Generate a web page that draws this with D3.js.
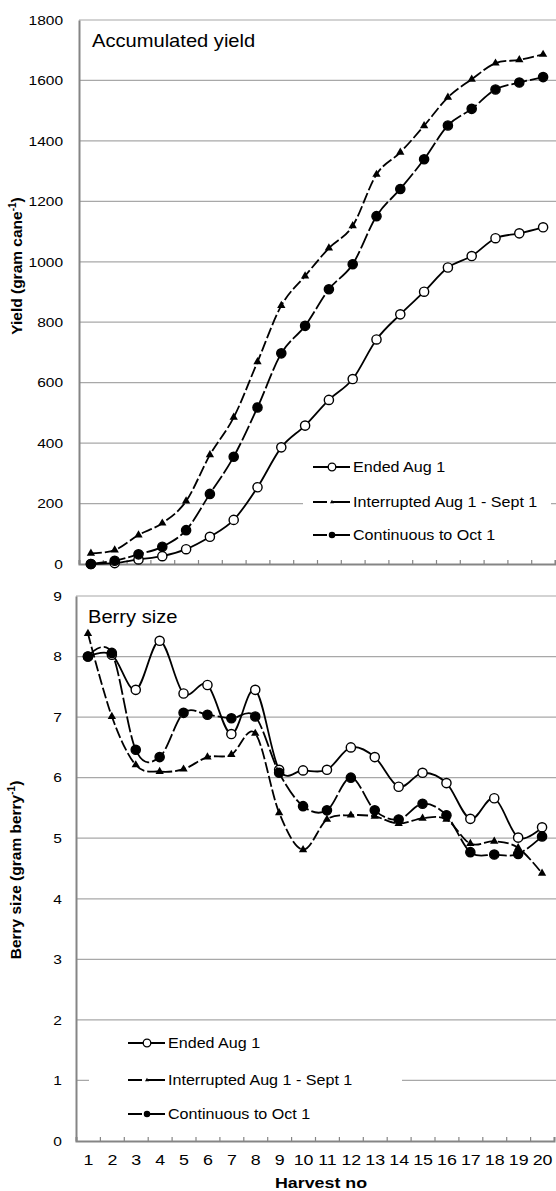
<!DOCTYPE html>
<html lang="en">
<head>
<meta charset="UTF-8">
<title>Accumulated yield and berry size</title>
<script src="https://d3js.org/d3.v7.min.js"></script>
<style>
  body { margin: 0; background: #fff; }
  svg text { font-family: Arial, "Liberation Sans", sans-serif; fill: #000; }
</style>
</head>
<body>
<div id="chart"></div>
<script>
// data
const harvestNo = [1, 2, 3, 4, 5, 6, 7, 8, 9, 10, 11, 12, 13, 14, 15, 16, 17, 18, 19, 20];
const seriesNames = ["Ended Aug 1", "Interrupted Aug 1 - Sept 1", "Continuous to Oct 1"];

const yieldEnded       = [0, 3, 15, 26, 49, 90, 146, 254, 386, 458, 543, 612, 743, 826, 901, 981, 1019, 1078, 1094, 1114];
const yieldInterrupted = [35, 46, 96, 135, 208, 361, 485, 669, 855, 953, 1045, 1119, 1289, 1362, 1450, 1544, 1604, 1657, 1668, 1686];
const yieldContinuous  = [0, 11, 32, 57, 112, 232, 355, 518, 697, 788, 909, 992, 1151, 1241, 1339, 1451, 1506, 1570, 1593, 1611];

const berryEnded       = [8.0, 8.03, 7.45, 8.26, 7.39, 7.53, 6.72, 7.45, 6.13, 6.12, 6.13, 6.5, 6.34, 5.85, 6.08, 5.91, 5.32, 5.66, 5.01, 5.18];
const berryInterrupted = [8.38, 7.01, 6.21, 6.1, 6.14, 6.34, 6.38, 6.73, 5.42, 4.81, 5.31, 5.38, 5.36, 5.24, 5.33, 5.31, 4.91, 4.95, 4.84, 4.42];
const berryContinuous  = [8.0, 8.06, 6.46, 6.34, 7.07, 7.04, 6.98, 7.01, 6.08, 5.53, 5.46, 6.0, 5.46, 5.31, 5.57, 5.38, 4.77, 4.73, 4.74, 5.03];

const yieldTicks = [0, 200, 400, 600, 800, 1000, 1200, 1400, 1600, 1800];
const berryTicks = [0, 1, 2, 3, 4, 5, 6, 7, 8, 9];

const W = 556, H = 1191;
const SX = 1.15;          // the source figure is a little wider than tall
const GRID = "#a8a8a8", AXIS = "#858585";

const styles = [
  {marker: "open",     dash: null},
  {marker: "triangle", dash: "11,3"},
  {marker: "filled",   dash: "16,3"}
];

const svg = d3.select("#chart").append("svg")
  .attr("width", W).attr("height", H);

function drawMarker(g, type, x, y, small) {
  if (type === "triangle") {
    g.append("path")
      .attr("d", d3.symbol(d3.symbolTriangle, small ? 7 : 30)())
      .attr("transform", `translate(${x},${y})`)
      .attr("fill", "#000");
  } else {
    g.append("circle")
      .attr("cx", x).attr("cy", y)
      .attr("r", small ? (type === "open" ? 3.8 : 2.6) : 4.6)
      .attr("fill", type === "open" ? "#fff" : "#000")
      .attr("stroke", "#000")
      .attr("stroke-width", small ? 1.3 : 1.4);
  }
}

function stretchedText(g, x, y, txt, size, weight) {
  return g.append("text")
    .attr("transform", `translate(${x},${y}) scale(${SX},1)`)
    .style("font-size", size + "px")
    .style("font-weight", weight || "normal")
    .text(txt);
}

function drawPanel(p) {
  const g = svg.append("g");

  const x = d3.scaleLinear().domain([0.5, 20.5]).range([p.left, p.right]);
  const y = d3.scaleLinear().domain([0, p.ticks[p.ticks.length - 1]]).range([p.bottom, p.top]);

  // gridlines
  g.append("g").selectAll("line").data(p.ticks.slice(1)).join("line")
    .attr("x1", p.left).attr("x2", W)
    .attr("y1", d => y(d)).attr("y2", d => y(d))
    .attr("stroke", GRID).attr("stroke-width", 1.2);

  // y axis with labels
  const ya = g.append("g").attr("transform", `translate(${p.left},0)`)
    .call(d3.axisLeft(y).tickValues(p.ticks).tickSize(0).tickFormat(d3.format("d")));
  ya.select(".domain").attr("stroke", AXIS).attr("stroke-width", 2);
  ya.selectAll("text")
    .attr("x", -p.tickGap / SX)
    .attr("transform", `scale(${SX},1)`)
    .style("font-size", "13.5px")
    .style("font-family", "Arial, 'Liberation Sans', sans-serif");

  // x axis: inward ticks between categories
  const xa = g.append("g").attr("transform", `translate(0,${p.bottom})`)
    .call(d3.axisBottom(x).tickValues(d3.range(0.5, 21, 1)).tickSize(-4).tickFormat(""));
  xa.select(".domain").attr("stroke", AXIS).attr("stroke-width", 2);
  xa.selectAll(".tick line").attr("stroke", AXIS).attr("stroke-width", 1.2);

  if (p.xLabels) {
    const xl = g.append("g").attr("transform", `translate(0,${p.bottom})`)
      .call(d3.axisBottom(x).tickValues(harvestNo).tickSize(0));
    xl.select(".domain").remove();
    xl.selectAll("text")
      .attr("y", 24).attr("dy", 0)
      .attr("transform", `scale(${SX},1)`)
      .style("font-size", "15.5px")
      .style("font-family", "Arial, 'Liberation Sans', sans-serif");
    stretchedText(g, 321, 1188, "Harvest no", 15.5, "bold").attr("text-anchor", "middle");
  }

  // y label
  const yl = g.append("text")
    .attr("transform", `translate(${p.yLabelX},${p.yLabelY}) rotate(-90)`)
    .attr("text-anchor", "middle")
    .style("font-size", "15.5px").style("font-weight", "bold");
  yl.append("tspan").text(p.yLabel);
  yl.append("tspan").attr("dy", -6).style("font-size", "10px").text("-1");
  yl.append("tspan").attr("dy", 6).text(")");

  // title
  stretchedText(g, p.titleX, p.titleY, p.title, 17.5);

  // legend with white background
  g.append("rect")
    .attr("x", p.legend.x0).attr("y", p.legend.y0)
    .attr("width", p.legend.x1 - p.legend.x0).attr("height", p.legend.y1 - p.legend.y0)
    .attr("fill", "#fff");

  // series
  const line = d3.line()
    .x((d, i) => x(harvestNo[i]))
    .y(d => y(d))
    .curve(d3.curveCatmullRom.alpha(0));

  p.series.forEach((vals, k) => {
    g.append("path")
      .attr("d", line(vals))
      .attr("fill", "none")
      .attr("stroke", "#000")
      .attr("stroke-width", 1.8)
      .attr("stroke-dasharray", styles[k].dash);
    const mg = g.append("g");
    vals.forEach((v, i) => drawMarker(mg, styles[k].marker, x(harvestNo[i]), y(v), false));
  });

  seriesNames.forEach((name, k) => {
    const ry = p.legend.rows[k];
    g.append("line")
      .attr("x1", p.legend.lx).attr("x2", p.legend.lx + 37)
      .attr("y1", ry).attr("y2", ry)
      .attr("stroke", "#000").attr("stroke-width", 1.8)
      .attr("stroke-dasharray", k === 0 ? null : "14,6,17");
    drawMarker(g, styles[k].marker, p.legend.lx + 19, ry, true);
    stretchedText(g, p.legend.lx + 40, ry + 5, name, 14);
  });
}

drawPanel({
  left: 79, right: 555, top: 20, bottom: 564,
  ticks: yieldTicks, tickGap: 16,
  series: [yieldEnded, yieldInterrupted, yieldContinuous],
  title: "Accumulated yield", titleX: 92, titleY: 47,
  yLabel: "Yield (gram cane", yLabelX: 22, yLabelY: 266,
  legend: {x0: 303, x1: 551, y0: 450, y1: 555, lx: 313, rows: [467, 502, 535]},
  xLabels: false
});

drawPanel({
  left: 76, right: 554, top: 596, bottom: 1141,
  ticks: berryTicks, tickGap: 14,
  series: [berryEnded, berryInterrupted, berryContinuous],
  title: "Berry size", titleX: 88, titleY: 623,
  yLabel: "Berry size (gram berry", yLabelX: 21, yLabelY: 870,
  legend: {x0: 89, x1: 402, y0: 1025, y1: 1130, lx: 128, rows: [1043, 1080, 1114]},
  xLabels: true
});
</script>
</body>
</html>
